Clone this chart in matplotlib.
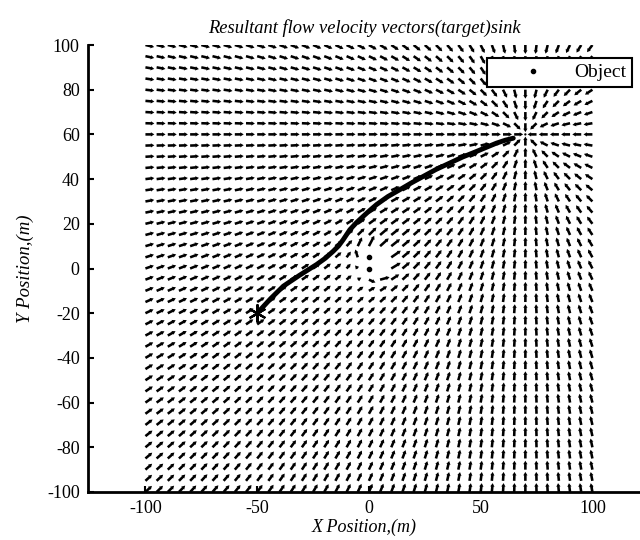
import numpy as np
import matplotlib

matplotlib.use("Agg")
import matplotlib.pyplot as plt

plt.rcParams["font.family"] = ["Liberation Serif", "DejaVu Serif"]
plt.rcParams["axes.unicode_minus"] = False

# grid of the velocity field
grid_x = np.arange(-100, 101, 5)
grid_y = np.arange(-100, 101, 5)

# target (sink) and obstacle points
sink_xy = (70, 60)
object_x = [0, 0]
object_y = [0, 5]
blank_pts = [(0, 0), (0, 5), (5, 0), (5, 5)]

# trajectory
path_x = [-50, -44, -38.3, -31, -23.4, -19.5, -16, -13.5, -11.5, -8.5, -5.5,
          -2.6, 0.5, 3.4, 8.5, 13.9, 19, 24.3, 30, 36.2, 42, 48.2, 53, 57.1, 61, 64.6]
path_y = [-20, -13.5, -7.9, -3, 1.8, 4.6, 7.7, 10.2, 12.9, 17.4, 20.6,
          23.3, 26.1, 28.6, 32.2, 35.3, 38.3, 41.2, 44.3, 47.2, 49.9, 52.4, 54.4, 56.1, 57.4, 58.3]
start_x, start_y = -50, -20


def flow_field(X, Y):
    dx = sink_xy[0] - X
    dy = sink_xy[1] - Y
    r = np.hypot(dx, dy)
    r[r == 0] = np.inf
    U = dx / r
    V = dy / r
    # repulsion from the object points
    for ox, oy in zip(object_x, object_y):
        ex = X - ox
        ey = Y - oy
        d = np.hypot(ex, ey)
        d[d == 0] = np.inf
        U = U + 20 * ex / d ** 3
        V = V + 20 * ey / d ** 3
    return U, V


X, Y = np.meshgrid(grid_x, grid_y)
U, V = flow_field(X.astype(float), Y.astype(float))
mag = np.hypot(U, V)
base = 4.0
scale = base * np.clip(mag, 0, 1.3) / np.where(mag == 0, 1, mag)
U = U * scale
V = V * scale
for bx, by in blank_pts:
    m = (X == bx) & (Y == by)
    U[m] = np.nan
    V[m] = np.nan

fig = plt.figure(figsize=(6.4, 5.4), dpi=100)
ax = fig.add_axes([88 / 640, 48 / 540, 552 / 640, 447 / 540])

ax.quiver(X, Y, U, V, angles="xy", scale_units="xy", scale=1, units="xy",
          width=1.15, headwidth=1.7, headlength=1.4, headaxislength=1.3,
          color="black", pivot="tail", zorder=2)
ax.plot(path_x, path_y, color="black", linewidth=3.5, solid_capstyle="round",
        solid_joinstyle="round", zorder=3)
ax.plot([start_x], [start_y], marker=(6, 2, 0), markersize=13, markeredgewidth=1.6,
        color="black", linestyle="none", zorder=4)
ax.plot(object_x, object_y, ".", color="black", markersize=6, label="Object", zorder=4)

ax.set_xlim(-125.7, 121.3)
ax.set_ylim(-100, 100)
ax.set_xticks([-100, -50, 0, 50, 100])
ax.set_yticks(np.arange(-100, 101, 20))
ax.tick_params(direction="in", length=4, width=1.5, labelsize=13, pad=6)

for side in ["top", "right"]:
    ax.spines[side].set_visible(False)
for side in ["left", "bottom"]:
    ax.spines[side].set_linewidth(2)

ax.set_title("Resultant flow velocity vectors(target)sink", fontsize=13.3,
             style="italic", pad=9)
ax.set_xlabel("X Position,(m)", fontsize=13, style="italic", labelpad=1)
ax.set_ylabel("Y Position,(m)", fontsize=13.5, style="italic", labelpad=9)

leg = ax.legend(loc="upper right", bbox_to_anchor=(0.986, 0.971), borderaxespad=0,
                fontsize=14, handlelength=4.2, handletextpad=0.0, fancybox=False,
                framealpha=1, edgecolor="black", borderpad=0.3)
leg.get_frame().set_linewidth(1.5)

fig.savefig("out.png", dpi=100)
